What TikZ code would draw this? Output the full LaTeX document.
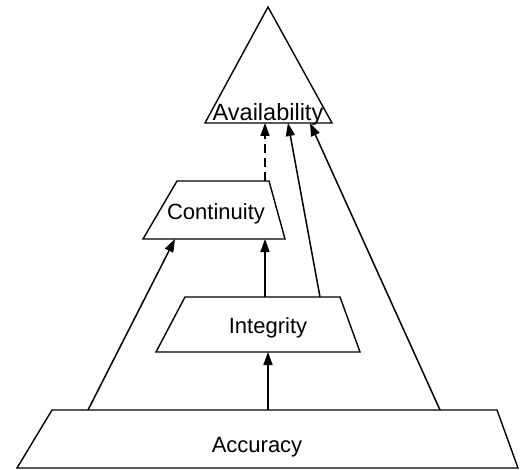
\documentclass[tikz,border=0pt]{standalone}
\usepackage{fontspec}
\setmainfont{Liberation Sans}
\usetikzlibrary{arrows.meta}
\begin{document}
\begin{tikzpicture}[x=1pt,y=-1pt,
  shapeline/.style={draw=black,line width=1.4pt,line join=miter},
  conn/.style={draw=black,line width=1.5pt,-{Triangle[length=13pt,width=9pt]}},
  dconn/.style={conn,dash pattern=on 9pt off 5pt},
  lbl/.style={font=\fontsize{22}{24}\selectfont,anchor=base,inner sep=0pt}]
\useasboundingbox (0,0) rectangle (521,470);
% shapes
\draw[shapeline] (268,7) -- (332,123) -- (205,123) -- cycle;
\draw[shapeline] (177,181) -- (269,181) -- (285,239) -- (143,239) -- cycle;
\draw[shapeline] (185,297) -- (340,297) -- (360,352) -- (156,352) -- cycle;
\draw[shapeline] (52,410) -- (497,410) -- (518,468) -- (17,468) -- cycle;
% labels
\node[lbl,font=\fontsize{23.5}{25}\selectfont] (avail) at (268,121) {Availability};
\node[lbl] (cont) at (216,219) {Continuity};
\node[lbl] (integ) at (268,333) {Integrity};
\node[lbl] (acc) at (257,452) {Accuracy};
% connection points
\coordinate (avA) at (265,123);
\coordinate (avB) at (288,123);
\coordinate (avC) at (310,123);
\coordinate (coT) at (265,181);
\coordinate (coBL) at (175,239);
\coordinate (coBR) at (265,239);
\coordinate (inT1) at (265,297);
\coordinate (inT2) at (320,297);
\coordinate (inB) at (268,352);
\coordinate (acL) at (88,410);
\coordinate (acM) at (268,410);
\coordinate (acR) at (440,410);
% connectors
\draw[dconn] (coT) -- (avA);
\draw[conn] (inT2) -- (avB);
\draw[conn] (acR) -- (avC);
\draw[conn] (acL) -- (coBL);
\draw[conn] (acM) -- (inB);
\draw[conn] (inT1) -- (coBR);
\end{tikzpicture}
\end{document}
